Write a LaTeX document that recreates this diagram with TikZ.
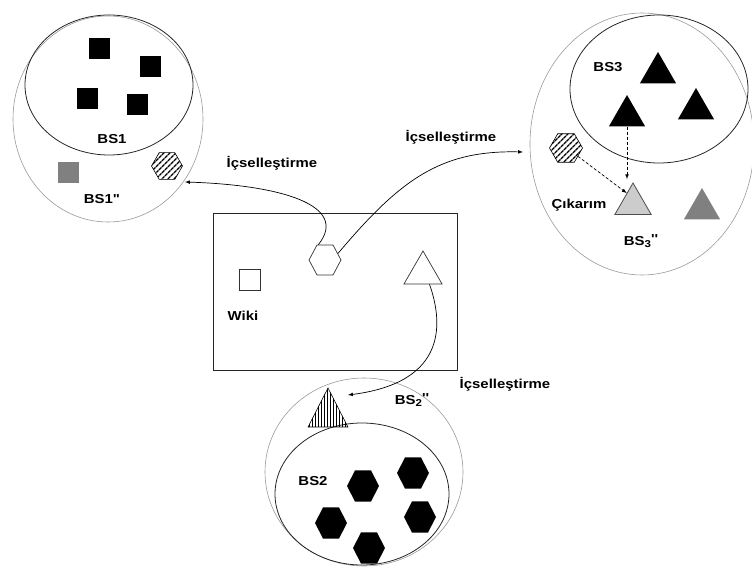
\documentclass[tikz,border=0pt]{standalone}
\usepackage{fontspec}
\newfontfamily\lblfont{Liberation Sans}[FakeStretch=1.15]
\usepackage{tikz}
\usetikzlibrary{shapes.geometric, positioning, shapes, arrows, patterns.meta, calc}
\definecolor{ringgray}{HTML}{9A9A9A}

\begin{document}
\begin{tikzpicture}[x=1pt,y=-1pt,>=latex,
      lbl/.style={font=\lblfont\bfseries\fontsize{13}{15}\selectfont, inner sep=0pt},
      sqbox/.style={rectangle, minimum size=21pt, inner sep=0pt},
      hexa/.style={regular polygon, regular polygon sides=6, minimum size=32pt, inner sep=0pt},
      tri/.style={regular polygon, regular polygon sides=3, minimum size=42pt, inner sep=0pt},
      hatch/.style={draw, line width=0.6pt, pattern={Lines[angle=45,distance=4pt,line width=1.4pt]}},
      inner/.style={draw=black!85, line width=0.8pt},
      outer/.style={draw=ringgray, line width=0.6pt},
      link/.style={->, line width=0.7pt},
      infer/.style={->, densely dashed, line width=0.7pt},
      ]
      \useasboundingbox (0,0) rectangle (752,585);
      % BS1
      \draw[outer] (108,119) ellipse (95 and 103);
      \draw[inner] (109,85) ellipse (84 and 70);
      \node[sqbox,fill=black] (s11) at (99,49) {};
      \node[sqbox,fill=black] (s12) at (150,67) {};
      \node[sqbox,fill=black] (s13) at (87,99) {};
      \node[sqbox,fill=black] (s14) at (137,105) {};
      \node[sqbox,fill=gray] (g1) at (68,173) {};
      \node[hexa,hatch,minimum size=31pt] (h1) at (167,166) {};
      \node[lbl] (bs1) at (112,139) {BS1};
      \node[lbl] (bs1x) at (102,199) {BS1"};
      % BS3
      \draw[outer] (642,144) ellipse (112 and 131);
      \draw[inner] (659,89) ellipse (89 and 74);
      \node[tri,fill=black] (t1) at (658,73) {};
      \node[tri,fill=black] (t2) at (627,116) {};
      \node[tri,fill=black] (t3) at (696,109) {};
      \node[tri,fill=gray!40,draw=black!70,line width=0.8pt] (lt) at (633,204) {};
      \node[tri,fill=gray] (dt) at (702,209) {};
      \node[hexa,hatch,minimum size=33pt] (h3) at (566,148) {};
      \node[lbl] (bs3) at (608,67) {BS3};
      \node[lbl] (cik) at (579,205) {Çıkarım};
      \node[lbl] (bs3x) at (641,241) {BS\raisebox{-0.25ex}{\fontsize{10}{12}\selectfont 3}\raisebox{0.35ex}{''}};
      \draw[infer] (h3.-35) -- (lt.120);
      \draw[infer,shorten >=3pt] (t2.south) -- (t2.south |- lt.north);
      % Wiki
      \node[draw=black!85,line width=0.8pt,minimum width=244pt,minimum height=157pt,inner sep=0pt] (wiki) at (335,291.5) {};
      \node[sqbox,draw=black!80,line width=0.7pt] (wsq) at (250,280) {};
      \node[lbl] (wlbl) at (243,316) {Wiki};
      \node[hexa,draw=black!80,line width=0.7pt,yscale=1.08] (wh) at (325,260) {};
      \node[tri,draw=black!80,line width=0.7pt,minimum size=44pt] (wt) at (423,273) {};
      % BS2
      \draw[outer] (364,472) ellipse (99 and 94);
      \draw[inner] (362,494) ellipse (87 and 71);
      \node[hexa,fill=black,yscale=1.12] (b1) at (363,486) {};
      \node[hexa,fill=black,yscale=1.12] (b2) at (413,473) {};
      \node[hexa,fill=black,yscale=1.12] (b3) at (331,523) {};
      \node[hexa,fill=black,yscale=1.12] (b4) at (420,517) {};
      \node[hexa,fill=black,yscale=1.12] (b5) at (369,548) {};
      \node[tri,draw,line width=0.6pt,minimum size=46pt,yscale=1.13,
        pattern={Lines[angle=90,distance=3pt,line width=0.8pt]}] (vt) at (328,414) {};
      \node[lbl] (bs2) at (313,481) {BS2};
      \node[lbl] (bs2x) at (412,400) {BS\raisebox{-0.25ex}{\fontsize{10}{12}\selectfont 2}\raisebox{0.35ex}{''}};
      % internalisation
      \coordinate (in1) at (185,182);
      \coordinate (in3) at (523,152);
      \coordinate (in2) at (348,395);
      \node[lbl] (ic1) at (272,163) {İçselleştirme};
      \node[lbl] (ic3) at (451,137) {İçselleştirme};
      \node[lbl] (ic2) at (505,384) {İçselleştirme};
      \draw[link] (wh.115) .. controls (350,205) and (280,185) .. (in1);
      \draw[link] (wh.25) .. controls (400,180) and (440,150) .. (in3);
      \draw[link] (wt.-60) .. controls (442,320) and (450,382) .. (in2);
    \end{tikzpicture}
\end{document}
